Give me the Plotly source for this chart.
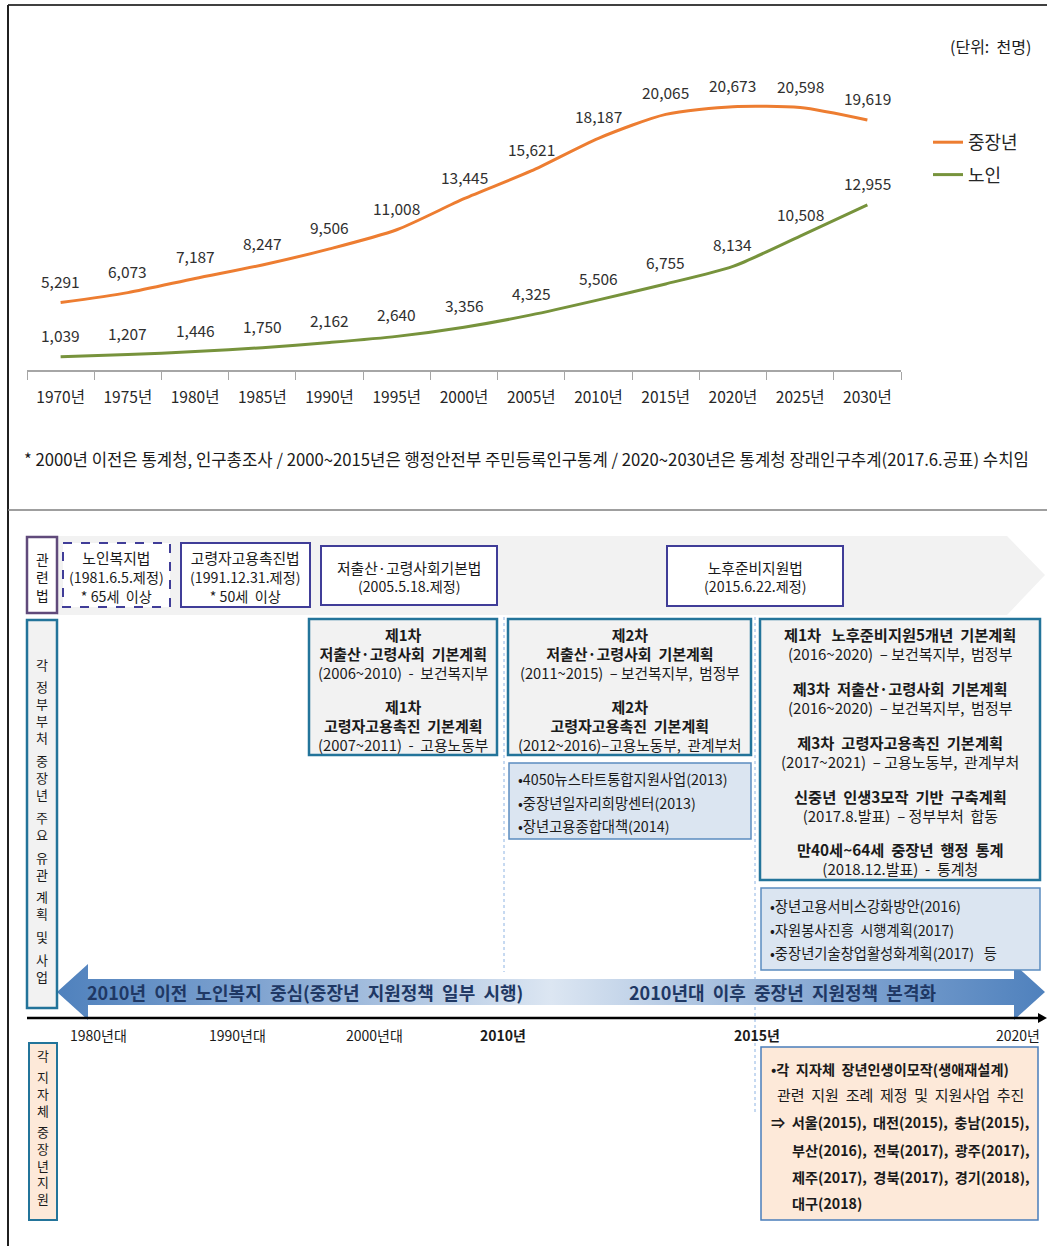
import plotly.graph_objects as go

W, H = 1047, 1246
FONT = "Noto Sans CJK KR"

# line chart data (단위: 천명)
YEARS = ["1970년", "1975년", "1980년", "1985년", "1990년", "1995년", "2000년",
         "2005년", "2010년", "2015년", "2020년", "2025년", "2030년"]
MIDDLE_AGED = [5291, 6073, 7187, 8247, 9506, 11008, 13445, 15621, 18187, 20065, 20673, 20598, 19619]
ELDERLY = [1039, 1207, 1446, 1750, 2162, 2640, 3356, 4325, 5506, 6755, 8134, 10508, 12955]
SERIES_NAMES = ["중장년", "노인"]
SERIES_COLORS = ["#ed7d31", "#77933c"]

TIMELINE_LABELS = ["1980년대", "1990년대", "2000년대", "2010년", "2015년", "2020년"]

FOOTNOTE = ("* 2000년 이전은 통계청, 인구총조사 / 2000~2015년은 행정안전부 주민등록인구통계 / "
            "2020~2030년은 통계청 장래인구추계(2017.6.공표) 수치임")


def px_y(y):
    return 1 - y / H


fig = go.Figure()

for name, values, color in zip(SERIES_NAMES, [MIDDLE_AGED, ELDERLY], SERIES_COLORS):
    fig.add_trace(go.Scatter(
        x=YEARS, y=values, mode="lines", name=name, legendgroup=name,
        line=dict(color=color, width=3, shape="spline", smoothing=0.7),
        hoverinfo="skip",
    ))
    for yr, v in zip(YEARS, values):
        fig.add_annotation(x=yr, y=v, xref="x", yref="y", text=f"{v:,}", showarrow=False,
                           yshift=22, font=dict(size=15.5, color="#303030"))


# ---- helpers for the infographic part (pixel coordinates on x2/y2) ----
def box(x0, y0, x1, y1, color, fill="white", width=2, dash="solid", layer="above"):
    fig.add_shape(type="rect", xref="x2", yref="y2", x0=x0, y0=y0, x1=x1, y1=y1,
                  line=dict(color=color, width=width, dash=dash), fillcolor=fill, layer=layer)


def txt(x, y, s, size=15, bold=False, anchor="center", color="#1a1a1a"):
    if bold:
        s = f"<b>{s}</b>"
    fig.add_annotation(x=x, y=y, xref="x2", yref="y2", text=s, showarrow=False,
                       xanchor=anchor, yanchor="middle", font=dict(size=size, color=color))


def block(x, y_mid, lines, pitch, anchor="center"):
    # several lines in one annotation; pitch = line distance in px (1.3 x base font)
    parts = []
    for s, size, bold in lines:
        s = f"<b>{s}</b>" if bold else s
        parts.append(f"<span style='font-size:{size}px'>{s}</span>")
    fig.add_annotation(x=x, y=y_mid, xref="x2", yref="y2", text="<br>".join(parts),
                       showarrow=False, xanchor=anchor, yanchor="middle", align=anchor,
                       borderpad=0, font=dict(size=pitch / 1.3, color="#1a1a1a"))


def vtext(x, y_first, words, size, gap):
    # vertical label: one stacked annotation per word
    step = size * 1.3
    y = y_first
    for w in words.split():
        fig.add_annotation(x=x, y=y - step / 2, xref="x2", yref="y2", text="<br>".join(w),
                           showarrow=False, xanchor="center", yanchor="top", borderpad=0,
                           font=dict(size=size, color="#1a1a1a"))
        y += len(w) * step + gap


def line(x0, y0, x1, y1, color, width=1, dash="solid", layer="above"):
    fig.add_shape(type="line", xref="x2", yref="y2", x0=x0, y0=y0, x1=x1, y1=y1,
                  line=dict(color=color, width=width, dash=dash), layer=layer)


# frame
line(8, 5, W, 5, "#404040", 2)
line(8, 5, 8, H, "#202020", 2)
line(8, 510, W, 510, "#7f7f7f", 1.5)

txt(1033, 46, "(단위:  천명)", size=16, anchor="right")
txt(22, 459, FOOTNOTE, size=16.7, anchor="left")

# 관련법 row: grey arrow band
fig.add_shape(type="path", xref="x2", yref="y2", layer="below",
              path="M 57 536 L 1007 536 L 1045 575 L 1007 615 L 57 615 Z",
              fillcolor="#f2f2f2", line=dict(width=0))

# dotted guides
line(504, 617, 504, 972, "#8eb4e3", 1, "dot", layer="below")
line(755, 617, 755, 1112, "#8eb4e3", 1, "dot", layer="below")

box(27, 537, 57, 613, "#604a7b", "white", 2.5)
vtext(42, 557, "관련법", 13.8, 0)

LAW = "#403d98"
box(63, 543, 170, 607, LAW, "white", 2, "dash")
block(116.5, 576, [("노인복지법", 14.8, False), ("(1981.6.5.제정)", 14.2, False),
                   ("* 65세  이상", 14.2, False)], 19.2)

box(181, 543, 310, 607, LAW, "white", 2)
block(245.5, 576, [("고령자고용촉진법", 14.8, False), ("(1991.12.31.제정)", 14.2, False),
                   ("* 50세  이상", 14.2, False)], 19.2)

box(321, 546, 497, 605, LAW, "white", 2)
block(409, 576.5, [("저출산·고령사회기본법", 14.8, False), ("(2005.5.18.제정)", 14.2, False)], 18)

box(667, 546, 843, 606, LAW, "white", 2)
block(755, 576.5, [("노후준비지원법", 14.8, False), ("(2015.6.22.제정)", 14.2, False)], 18)

# 정부부처 row
TEAL = "#23749a"
box(27, 620, 57, 1008, TEAL, "#f2f2f2", 2.5)
vtext(42, 662, "각 정부부처 중장년 주요 유관 계획 및 사업", 13, 6)

box(309, 619, 497, 755, TEAL, "#f2f2f2", 2.5)
block(403, 653.5, [("제1차", 15, True), ("저출산·고령사회  기본계획", 15, True),
                   ("(2006~2010)  -  보건복지부", 14.8, False)], 19.2)
block(403, 725, [("제1차", 15, True), ("고령자고용촉진  기본계획", 15, True),
                 ("(2007~2011)  -  고용노동부", 14.8, False)], 19.2)

box(508, 619, 751, 755, TEAL, "#f2f2f2", 2.5)
block(629.5, 653.5, [("제2차", 15, True), ("저출산·고령사회  기본계획", 15, True),
                     ("(2011~2015)  – 보건복지부,  범정부", 14.7, False)], 19.2)
block(629.5, 725, [("제2차", 15, True), ("고령자고용촉진  기본계획", 15, True),
                   ("(2012~2016)–고용노동부,  관계부처", 14.7, False)], 19.2)

box(760, 619, 1040, 880, TEAL, "#f2f2f2", 2.5)
for y, title, sub in [
        (643.5, "제1차   노후준비지원5개년  기본계획", "(2016~2020)  – 보건복지부,  범정부"),
        (697.5, "제3차  저출산·고령사회  기본계획", "(2016~2020)  – 보건복지부,  범정부"),
        (751.5, "제3차  고령자고용촉진  기본계획", "(2017~2021)  – 고용노동부,  관계부처"),
        (805, "신중년  인생3모작  기반  구축계획", "(2017.8.발표)  – 정부부처  합동"),
        (858, "만40세~64세  중장년  행정  통계", "(2018.12.발표)  -  통계청")]:
    block(900, y, [(title, 15.3, True), (sub, 15, False)], 18.6)

ITEM_BORDER = "#5b8cc0"
box(509, 763, 751, 839, ITEM_BORDER, "#dbe5f1", 1.5)
block(517, 801.5, [("•4050뉴스타트통합지원사업(2013)", 14.3, False),
                   ("•중장년일자리희망센터(2013)", 14.3, False),
                   ("•장년고용종합대책(2014)", 14.3, False)], 23.5, anchor="left")

box(761, 888, 1040, 970, ITEM_BORDER, "#dbe5f1", 1.5)
block(769, 928.5, [("•장년고용서비스강화방안(2016)", 14.3, False),
                   ("•자원봉사진흥  시행계획(2017)", 14.3, False),
                   ("•중장년기술창업활성화계획(2017)   등", 14.3, False)], 23.5, anchor="left")

# big double arrow with gradient
fig.add_trace(go.Scatter(
    x=[57, 88, 88, 1014, 1014, 1045, 1014, 1014, 88, 88, 57],
    y=[992, 964, 979, 979, 964, 992, 1020, 1005, 1005, 1020, 992],
    xaxis="x2", yaxis="y2", mode="lines", line=dict(width=0), fill="toself",
    fillgradient=dict(type="horizontal",
                      colorscale=[[0, "#4f81bd"], [0.2, "#7fa3d0"], [0.5, "#dce6f2"],
                                  [0.8, "#7fa3d0"], [1, "#4f81bd"]]),
    showlegend=False, hoverinfo="skip",
))
txt(305, 992, "2010년  이전  노인복지  중심(중장년  지원정책  일부  시행)", size=18, bold=True, color="#1f3864")
txt(782, 992, "2010년대  이후  중장년  지원정책  본격화", size=18, bold=True, color="#1f3864")

# timeline axis
line(27, 1018, 1040, 1018, "#000000", 2.5)
fig.add_shape(type="path", xref="x2", yref="y2", path="M 1038 1013 L 1047 1018 L 1038 1023 Z",
              fillcolor="#000000", line=dict(width=0))
for x, s in zip([98, 237, 374, 503, 757, 1018], TIMELINE_LABELS):
    txt(x, 1035, s, size=14, bold=s in ("2010년", "2015년"))

# 지자체 row
box(29, 1043, 57, 1220, TEAL, "#fde9d9", 2)
vtext(43, 1053, "각 지자체 중장년지원", 12.9, 4.5)

box(761, 1047, 1038, 1220, "#4a7ebb", "#fde9d9", 1.5)
txt(769, 1069, "•각  지자체  장년인생이모작(생애재설계)", size=14.2, bold=True, anchor="left")
txt(900, 1094, "관련  지원  조례  제정  및  지원사업  추진", size=15)
txt(769, 1122, "⇒  서울(2015),  대전(2015),  충남(2015),", size=14.2, bold=True, anchor="left")
txt(790, 1150, "부산(2016),  전북(2017),  광주(2017),", size=14.2, bold=True, anchor="left")
txt(790, 1177, "제주(2017),  경북(2017),  경기(2018),", size=14.2, bold=True, anchor="left")
txt(790, 1203, "대구(2018)", size=14.2, bold=True, anchor="left")

fig.update_layout(
    width=W, height=H, autosize=False,
    margin=dict(l=0, r=0, t=0, b=0),
    paper_bgcolor="white", plot_bgcolor="rgba(0,0,0,0)",
    font=dict(family=FONT, color="#1a1a1a"),
    showlegend=True,
    legend=dict(x=928 / W, y=px_y(124), xanchor="left", yanchor="top",
                font=dict(size=18, color="#262626"), tracegroupgap=6,
                bgcolor="rgba(0,0,0,0)"),
    xaxis=dict(domain=[27 / W, 901 / W], type="category", range=[-0.5, 12.5],
               tickson="boundaries", ticks="outside", ticklen=8, tickcolor="#a6a6a6",
               showline=True, linecolor="#a6a6a6", linewidth=1.5, showgrid=False,
               zeroline=False, tickfont=dict(size=15.5, color="#262626"),
               ticklabelstandoff=13, fixedrange=True),
    yaxis=dict(domain=[px_y(370), px_y(51.5)], range=[0, 25000], visible=False, fixedrange=True),
    xaxis2=dict(domain=[0, 1], range=[0, W], visible=False, anchor="y2", fixedrange=True),
    yaxis2=dict(domain=[0, 1], range=[H, 0], visible=False, anchor="x2", fixedrange=True),
)

# drop the browser's default 8px body margin so the figure sits at the page origin
fig.write_html("out.html", config={"displayModeBar": False},
               post_script="document.body.style.margin='0';")
